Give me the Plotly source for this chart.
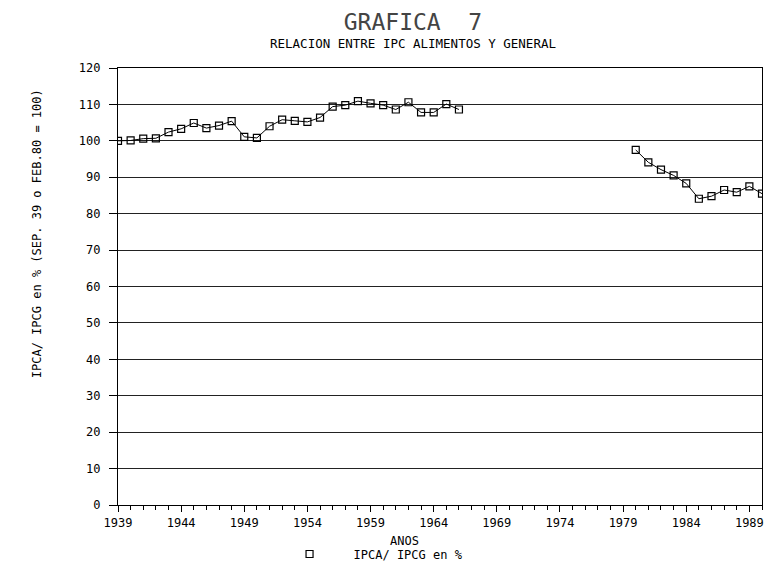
import plotly.graph_objects as go

# ---- data ----
years_a = list(range(1939, 1967))
ratio_a = [100.0, 100.1, 100.6, 100.7, 102.4, 103.3, 104.9, 103.5, 104.2, 105.4,
           101.1, 100.8, 104.0, 105.8, 105.5, 105.2, 106.4, 109.4, 109.8, 110.9,
           110.3, 109.8, 108.6, 110.6, 107.8, 107.8, 110.1, 108.6]
years_gap = list(range(1967, 1980))
years_b = list(range(1980, 1991))
ratio_b = [97.5, 94.1, 92.1, 90.5, 88.3, 84.1, 84.8, 86.5, 85.9, 87.5, 85.5]

x_ticks = list(range(1939, 1990, 5))
y_ticks = list(range(0, 121, 10))

title_text = "GRAFICA\u00a0\u00a07"
subtitle_text = "RELACION ENTRE IPC ALIMENTOS Y GENERAL"
y_title = "IPCA/ IPCG en % (SEP. 39 o FEB.80 = 100)"
x_title = "ANOS"
series_name = "IPCA/ IPCG en %"

years = years_a + years_gap + years_b
values = ratio_a + [None] * len(years_gap) + ratio_b

FONT = "DejaVu Sans Mono"
W, H = 772, 581
L, R, T, B = 118, 8, 68, 76
pw, ph = W - L - R, H - T - B


def px(x):
    return (x - L) / pw


def py(y):
    return (H - B - y) / ph


fig = go.Figure()
fig.add_trace(go.Scatter(
    x=years, y=values, mode="lines+markers", connectgaps=False,
    line=dict(color="black", width=1),
    marker=dict(symbol="square-open", size=7, color="black", line=dict(width=1.2)),
    showlegend=False, name=series_name,
))
fig.add_trace(go.Scatter(
    x=[None], y=[None], mode="markers", name=series_name,
    marker=dict(symbol="square-open", size=7, color="black", line=dict(width=1.2)),
    showlegend=True,
))

fig.update_layout(
    width=W, height=H,
    paper_bgcolor="white", plot_bgcolor="white",
    margin=dict(l=L, r=R, t=T, b=B),
    font=dict(family=FONT, size=12, color="black"),
    title=dict(text=title_text, x=413 / W, xanchor="center", y=1 - 22 / H, yanchor="middle",
               font=dict(family=FONT, size=23, color="#444", weight=300)),
    showlegend=True,
    legend=dict(orientation="h", x=px(266), xanchor="left", y=py(554), yanchor="middle",
                font=dict(family=FONT, size=12, color="black"), itemwidth=78,
                bgcolor="rgba(0,0,0,0)"),
    annotations=[
        dict(text=subtitle_text, xref="paper", yref="paper",
             x=px(414), y=py(43), xanchor="center", yanchor="middle",
             showarrow=False, font=dict(family=FONT, size=12.5, color="black")),
        dict(text=y_title, xref="paper", yref="paper", textangle=-90,
             x=px(37), y=py(234), xanchor="center", yanchor="middle",
             showarrow=False, font=dict(family=FONT, size=12, color="black")),
        dict(text=x_title, xref="paper", yref="paper",
             x=px(405), y=py(541), xanchor="center", yanchor="middle",
             showarrow=False, font=dict(family=FONT, size=12, color="black")),
    ],
)
fig.update_xaxes(
    range=[1939, 1990], tickvals=x_ticks, ticktext=[str(v) for v in x_ticks],
    ticks="outside", ticklen=6, tickcolor="black",
    minor=dict(dtick=1, tick0=1939, ticks="outside", ticklen=4, tickcolor="black", showgrid=False),
    showgrid=False, zeroline=False, showline=True, linecolor="black", linewidth=1.2, mirror=True,
    tickfont=dict(family=FONT, size=12, color="black"),
)
fig.update_yaxes(
    range=[0, 120], tickvals=y_ticks,
    ticks="outside", ticklen=8, tickcolor="black", ticklabelstandoff=6,
    showgrid=True, gridcolor="#222", gridwidth=1,
    zeroline=False, showline=True, linecolor="black", linewidth=1.2, mirror=True,
    tickfont=dict(family=FONT, size=12, color="black"),
)

fig.write_html(
    "out.html",
    config={"displayModeBar": False},
    post_script="document.body.style.margin='0';document.body.style.overflow='hidden';",
)
